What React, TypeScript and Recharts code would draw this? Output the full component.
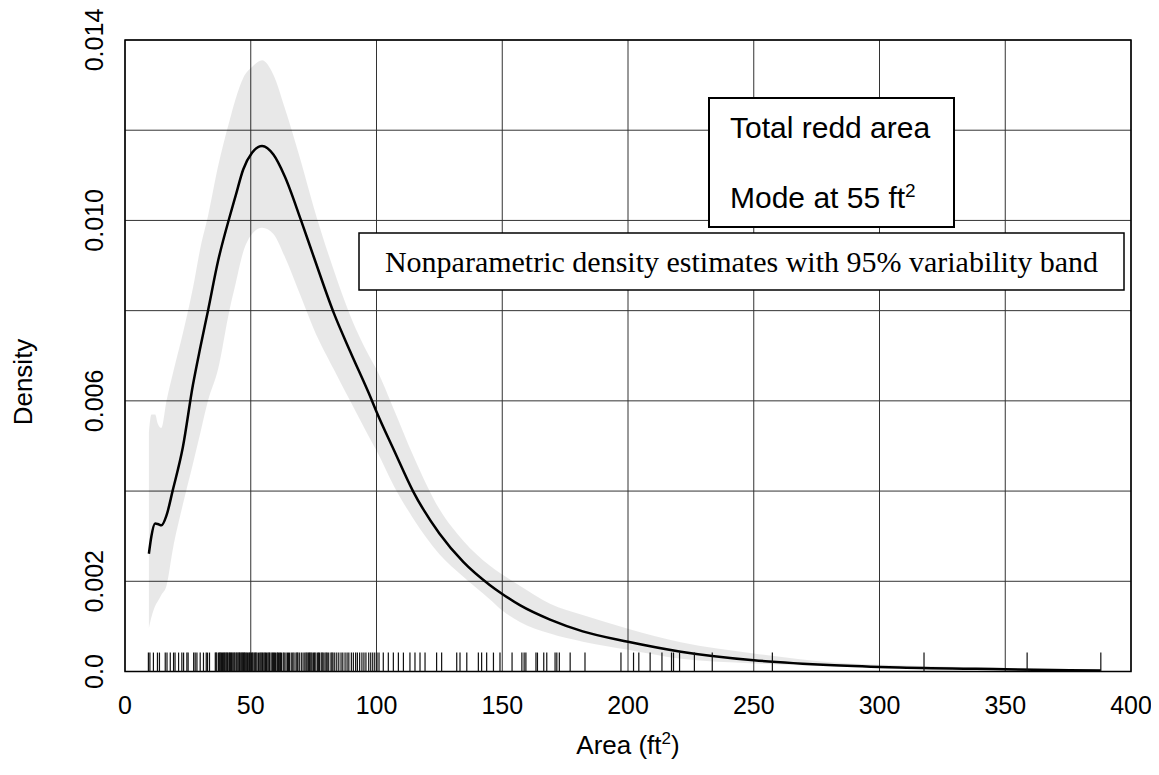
import React from 'react';
import {
  ComposedChart,
  Area,
  Line,
  XAxis,
  YAxis,
  CartesianGrid,
  ReferenceLine,
  ReferenceArea,
} from 'recharts';

// Evaluation points of the density estimate (ft^2)
const areaX = [
  9.5, 10.5, 12, 13, 14.5, 16.5, 19, 23, 27, 30, 33, 37, 41.5, 44, 47, 50.5,
  54.5, 59, 63.5, 70, 75, 83, 89.5, 98, 100, 107, 114.5, 125, 134.5, 145, 150,
  157, 169, 182, 200, 221, 250, 282, 308, 350, 388,
];
// Density estimate
const densityMid = [
  0.00261, 0.003, 0.00328, 0.00327, 0.00324, 0.00346, 0.00402, 0.00497,
  0.00635, 0.0072, 0.008, 0.0091, 0.01006, 0.01055, 0.01113, 0.0115, 0.01165,
  0.01146, 0.01098, 0.01, 0.0092, 0.00795, 0.0071, 0.00603, 0.00576, 0.0049,
  0.004, 0.00306, 0.00243, 0.00192, 0.00172, 0.00147, 0.00115, 0.00089,
  0.00066, 0.00044, 0.00025, 0.00014, 0.00009, 0.00005, 0.00002,
];
// 95% variability band, lower edge
const bandLow = [
  0.00096, 0.0012, 0.00145, 0.00155, 0.0017, 0.0019, 0.0027, 0.0037, 0.0046,
  0.0053, 0.006, 0.0067, 0.008, 0.0086, 0.0093, 0.0097, 0.00984, 0.0097,
  0.0092, 0.0083, 0.0076, 0.0067, 0.006, 0.0051, 0.0049, 0.0041, 0.0034,
  0.0026, 0.0021, 0.0016, 0.00135, 0.0011, 0.00084, 0.00066, 0.00048, 0.00028,
  0.00018, 0.00011, 0.00006, 0.00003, 0.00001,
];
// 95% variability band, upper edge
const bandHigh = [
  0.0053, 0.0057, 0.0057, 0.0055, 0.0054, 0.006, 0.0066, 0.0075, 0.0085,
  0.0094, 0.0101, 0.0112, 0.0122, 0.0127, 0.01316, 0.0134, 0.01355, 0.01323,
  0.0125, 0.0113, 0.0103, 0.0089, 0.0079, 0.0069, 0.0067, 0.0058, 0.0048,
  0.0036, 0.0029, 0.00235, 0.00215, 0.0019, 0.0015, 0.00125, 0.00095,
  0.00065, 0.0004, 0.0002, 0.00014, 0.00008, 0.00004,
];
// Observed redd areas (rug)
const rugValues = [
  9.3, 9.9, 11.3, 12.9, 13.7, 16.0, 16.7, 18.0, 19.3, 19.9, 21.3, 22.6, 23.3,
  24.6, 25.1, 27.3, 27.9, 28.6, 29.9, 31.2, 32.3, 32.8, 33.6, 35.9, 36.2, 36.5,
  37.2, 37.5, 37.8, 38.1, 38.4, 38.8, 39.1, 39.5, 39.8, 40.2, 40.5, 40.8, 41.3,
  41.6, 41.9, 42.3, 42.6, 43.0, 43.4, 43.7, 44.2, 44.5, 44.9, 45.3, 45.5, 45.8,
  46.2, 46.5, 46.8, 47.1, 47.4, 47.6, 48.0, 48.4, 48.7, 49.2, 49.5, 49.8, 50.3,
  50.6, 50.9, 51.4, 51.8, 52.1, 52.5, 53.1, 53.6, 54.0, 54.4, 54.7, 55.2, 55.6,
  55.9, 56.3, 56.8, 57.2, 57.5, 58.1, 58.6, 59.0, 59.4, 59.8, 60.4, 60.7, 61.0,
  61.5, 61.8, 62.2, 62.9, 63.3, 64.0, 64.6, 65.0, 65.4, 66.1, 66.7, 67.2, 68.0,
  68.4, 68.7, 69.3, 70.1, 70.8, 71.5, 72.0, 72.4, 72.9, 73.3, 73.6, 74.0, 74.4,
  75.0, 75.4, 75.9, 76.6, 77.0, 77.3, 78.0, 78.4, 78.8, 79.5, 80.0, 80.4, 81.0,
  81.9, 82.3, 82.7, 83.4, 84.2, 85.0, 85.9, 86.6, 87.5, 88.3, 89.0, 90.0, 90.8,
  91.7, 92.4, 93.3, 94.2, 95.0, 95.8, 96.9, 97.7, 98.5, 99.3, 100.2, 101.0,
  102.7, 104.7, 106.7, 108.7, 110.7, 113.3, 115.3, 117.3, 119.3, 123.9, 125.9,
  131.9, 133.2, 135.9, 140.5, 141.8, 143.8, 146.5, 149.1, 153.9, 157.8, 158.7,
  159.4, 163.4, 164.0, 166.5, 167.7, 171.0, 171.7, 172.7, 177.0, 182.9, 197.2,
  202.2, 204.3, 208.8, 213.5, 217.3, 218.1, 220.5, 226.4, 233.5, 257.4, 317.7,
  358.7, 388.0,
];
const xTicks = [0, 50, 100, 150, 200, 250, 300, 350, 400];
const yTicks = [0, 0.002, 0.004, 0.006, 0.008, 0.01, 0.012, 0.014];
const yLabelValues = [0, 0.002, 0.006, 0.01, 0.014];
const yLabelTexts = ['0.0', '0.002', '0.006', '0.010', '0.014'];
const RUG_TOP = 0.00042;

const data = areaX.map((x, i) => ({
  x,
  mid: densityMid[i],
  band: [bandLow[i], bandHigh[i]],
}));

const W = 1151;
const H = 767;
const ARIAL = "'Liberation Sans', Arial, sans-serif";
const TIMES = "'Liberation Serif', 'Times New Roman', serif";
const TICK_FS = 25;

const XTick = (props: any) => {
  const { x, y, payload } = props;
  return (
    <text x={x} y={y + 33} dy="0.36em" textAnchor="middle" fontFamily={ARIAL} fontSize={TICK_FS} fill="#000">
      {payload.value}
    </text>
  );
};

const YTick = (props: any) => {
  const { x, y, payload } = props;
  const idx = yLabelValues.findIndex((v) => Math.abs(v - payload.value) < 1e-9);
  if (idx < 0) return <g />;
  const cx = x - 31;
  return (
    <text
      x={cx}
      y={y}
      dy="0.36em"
      textAnchor="middle"
      transform={`rotate(-90 ${cx} ${y})`}
      fontFamily={ARIAL}
      fontSize={TICK_FS}
      fill="#000"
    >
      {yLabelTexts[idx]}
    </text>
  );
};

export default function App() {
  return (
    <div style={{ position: 'relative', width: W, height: H, background: '#fff' }}>
      <ComposedChart
        width={W}
        height={H}
        data={data}
        margin={{ top: 32, right: 28, bottom: 23.5, left: 17 }}
      >
        <CartesianGrid stroke="#333" strokeWidth={1} />
        <XAxis
          type="number"
          dataKey="x"
          domain={[0, 400]}
          ticks={xTicks}
          interval={0}
          allowDataOverflow
          tickLine={false}
          axisLine={false}
          tickSize={0}
          tickMargin={0}
          height={80}
          tick={<XTick />}
        />
        <YAxis
          type="number"
          domain={[0, 0.014]}
          ticks={yTicks}
          interval={0}
          allowDataOverflow
          tickLine={false}
          axisLine={false}
          tickSize={0}
          tickMargin={0}
          width={100}
          tick={<YTick />}
        />
        <Area
          dataKey="band"
          type="monotone"
          fill="#000"
          fillOpacity={0.09}
          stroke="none"
          isAnimationActive={false}
        />
        <Line
          dataKey="mid"
          type="monotone"
          stroke="#000"
          strokeWidth={2.5}
          dot={false}
          isAnimationActive={false}
        />
        {rugValues.map((v, i) => (
          <ReferenceLine
            key={i}
            segment={[
              { x: v, y: 0 },
              { x: v, y: RUG_TOP },
            ]}
            stroke="#111"
            strokeWidth={1.2}
            ifOverflow="visible"
          />
        ))}
        <ReferenceArea
          x1={0}
          x2={400}
          y1={0}
          y2={0.014}
          fill="none"
          fillOpacity={0}
          stroke="#000"
          strokeWidth={1.5}
          ifOverflow="visible"
        />
      </ComposedChart>
      <svg
        width={W}
        height={H}
        style={{ position: 'absolute', left: 0, top: 0, pointerEvents: 'none' }}
      >
        <rect x={701} y={90} width={245} height={129} fill="#fff" stroke="#000" strokeWidth={2} />
        <text x={722} y={130} fontFamily={ARIAL} fontSize={30} fill="#000">
          Total redd area
        </text>
        <text x={722} y={200} fontFamily={ARIAL} fontSize={30} fill="#000">
          Mode at 55 ft
          <tspan fontSize={19} dy={-11}>2</tspan>
        </text>
        <rect x={351} y={225} width={765} height={57} fill="#fff" stroke="#000" strokeWidth={1.5} />
        <text x={733.5} y={264} textAnchor="middle" fontFamily={TIMES} fontSize={30} fill="#000">
          Nonparametric density estimates with 95% variability band
        </text>
        <text
          x={15}
          y={374}
          dy="0.36em"
          textAnchor="middle"
          transform="rotate(-90 15 374)"
          fontFamily={ARIAL}
          fontSize={26}
          fill="#000"
        >
          Density
        </text>
        <text x={620} y={737} dy="0.36em" textAnchor="middle" fontFamily={ARIAL} fontSize={26} fill="#000">
          Area (ft<tspan fontSize={17} dy={-10}>2</tspan>
          <tspan dy={10}>)</tspan>
        </text>
      </svg>
    </div>
  );
}
